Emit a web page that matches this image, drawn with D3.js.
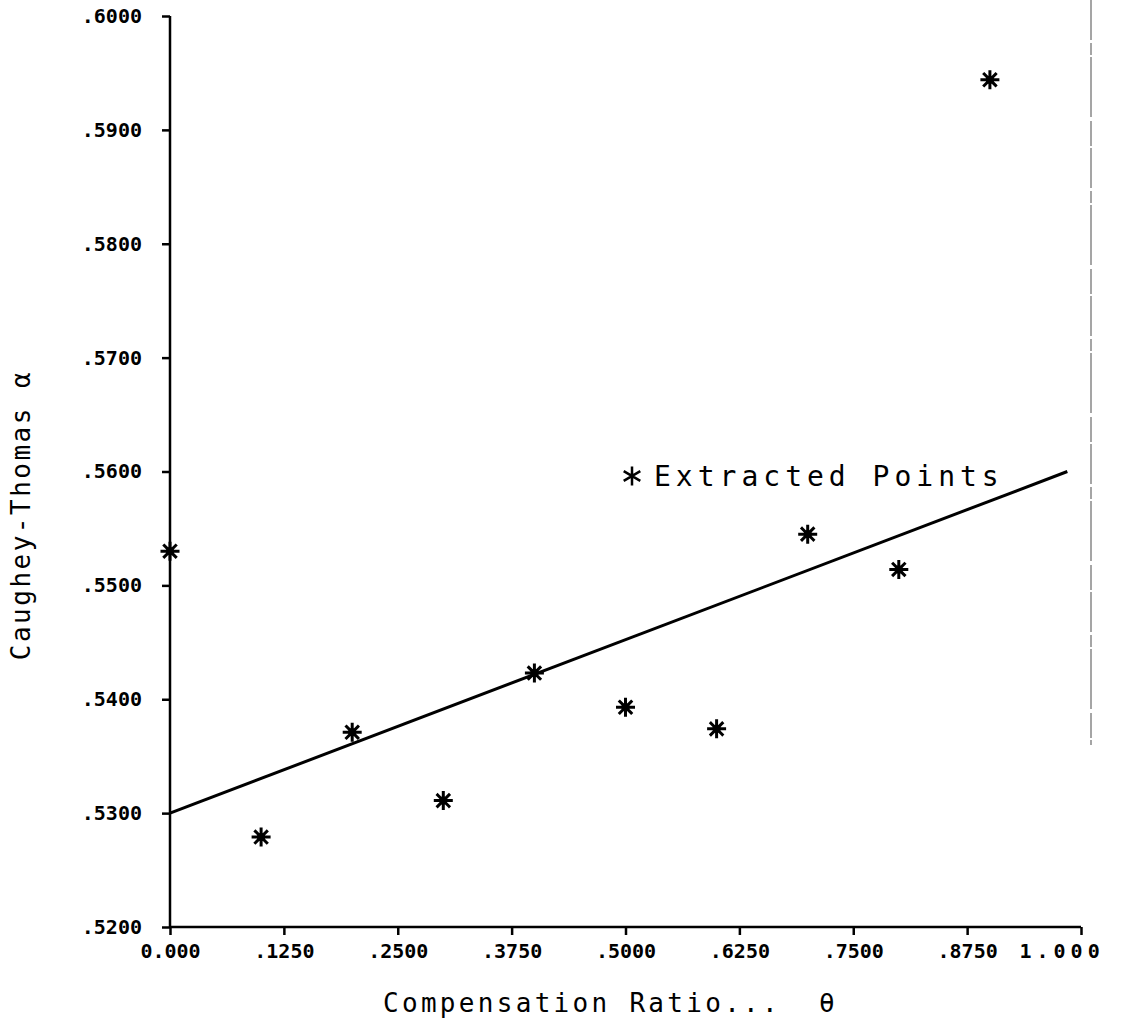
<!DOCTYPE html>
<html>
<head>
<meta charset="utf-8">
<script src="https://cdn.jsdelivr.net/npm/d3@7"></script>
<style>
  body { margin: 0; background: #fff; }
  svg { display: block; }
  text { font-family: "DejaVu Sans Mono", "Liberation Mono", monospace; fill: #000; }
  .tick line { stroke: #000; stroke-width: 2.5; }
  .domain { display: none; }
</style>
</head>
<body>
<div id="chart"></div>
<script>
// compensation ratio theta for each extracted point
const thetaValues = [0.0, 0.1, 0.2, 0.3, 0.4, 0.5, 0.6, 0.7, 0.8, 0.9];
// Caughey-Thomas alpha
const alphaValues = [0.5530, 0.5279, 0.5371, 0.5311, 0.5423, 0.5393, 0.5374, 0.5545, 0.5514, 0.5944];
// fitted straight line, end points
const fitTheta = [0.0, 0.985];
const fitAlpha = [0.5300, 0.5600];

const xTicks = [0, 0.125, 0.25, 0.375, 0.5, 0.625, 0.75, 0.875, 1.0];
const xTickLabels = ["0.000", ".1250", ".2500", ".3750", ".5000", ".6250", ".7500", ".8750", "1.000"];
const yTicks = [0.52, 0.53, 0.54, 0.55, 0.56, 0.57, 0.58, 0.59, 0.60];
const yTickLabels = [".5200", ".5300", ".5400", ".5500", ".5600", ".5700", ".5800", ".5900", ".6000"];

const width = 1131, height = 1021;
const plotLeft = 170, plotRight = 1081, plotTop = 16, plotBottom = 927;

let svg = d3.select("#chart").append("svg")
    .attr("width", width)
    .attr("height", height);

let x = d3.scaleLinear().domain([0, 1]).range([plotLeft, plotRight]);
let y = d3.scaleLinear().domain([0.52, 0.60]).range([plotBottom, plotTop]);

// faint scanned page edge on the right
svg.append("line")
    .attr("x1", 1091).attr("x2", 1091)
    .attr("y1", 0).attr("y2", 745)
    .attr("stroke", "#888")
    .attr("stroke-width", 1.5)
    .attr("stroke-dasharray", "40 3 12 2 60 4 25 2");

// axes
let xAxis = svg.append("g")
    .attr("transform", `translate(0,${plotBottom})`)
    .call(d3.axisBottom(x).tickValues(xTicks).tickSize(8).tickPadding(9)
        .tickFormat((d, i) => xTickLabels[i]));
xAxis.selectAll("text")
    .style("font-size", "20px")
    .style("font-weight", "bold");
// the last label is spaced wider and runs off the page
xAxis.selectAll(".tick:last-of-type text")
    .attr("text-anchor", "start")
    .attr("dx", "-62")
    .style("letter-spacing", "5px");

let yAxis = svg.append("g")
    .attr("transform", `translate(${plotLeft},0)`)
    .call(d3.axisLeft(y).tickValues(yTicks).tickSize(8).tickPadding(20)
        .tickFormat((d, i) => yTickLabels[i]));
yAxis.selectAll("text")
    .style("font-size", "20px")
    .style("font-weight", "bold");

// axis lines
svg.append("line")
    .attr("x1", plotLeft).attr("x2", plotLeft)
    .attr("y1", plotTop).attr("y2", plotBottom)
    .attr("stroke", "#000").attr("stroke-width", 2.5);
svg.append("line")
    .attr("x1", plotLeft).attr("x2", plotRight)
    .attr("y1", plotBottom).attr("y2", plotBottom)
    .attr("stroke", "#000").attr("stroke-width", 2.5);

// fitted line
let fitData = fitTheta.map((t, i) => ({theta: t, alpha: fitAlpha[i]}));
let line = d3.line().x(d => x(d.theta)).y(d => y(d.alpha));
svg.append("path")
    .datum(fitData)
    .attr("d", line)
    .attr("fill", "none")
    .attr("stroke", "#000")
    .attr("stroke-width", 3);

// star markers (8 arms)
let pts = thetaValues.map((t, i) => ({theta: t, alpha: alphaValues[i]}));
let star = function (r) {
    let p = d3.path();
    for (let k = 0; k < 4; k++) {
        let a = k * Math.PI / 4;
        p.moveTo(-r * Math.cos(a), -r * Math.sin(a));
        p.lineTo(r * Math.cos(a), r * Math.sin(a));
    }
    return p.toString();
};
let marks = svg.selectAll("g.pt")
    .data(pts)
    .enter()
    .append("g")
    .attr("class", "pt")
    .attr("transform", d => `translate(${x(d.theta)},${y(d.alpha)})`);
marks.append("path")
    .attr("d", star(8))
    .attr("stroke", "#000")
    .attr("stroke-width", 3)
    .attr("stroke-linecap", "square");
marks.append("circle")
    .attr("r", 4)
    .attr("fill", "#000");

// legend
let legend = svg.append("g").attr("transform", "translate(632,476)");
legend.append("path")
    .attr("d", d3.symbol(d3.symbolAsterisk, 260)())
    .attr("stroke", "#000")
    .attr("stroke-width", 2.5);
legend.append("text")
    .attr("x", 22)
    .attr("y", 10)
    .style("font-size", "28px")
    .style("letter-spacing", "5px")
    .text("Extracted Points");

// axis titles
svg.append("text")
    .attr("x", 383)
    .attr("y", 1012)
    .style("font-size", "26px")
    .style("letter-spacing", "3.3px")
    .style("white-space", "pre")
    .text("Compensation Ratio...  θ");

svg.append("text")
    .attr("transform", "translate(30,515) rotate(-90)")
    .attr("text-anchor", "middle")
    .style("font-size", "26px")
    .style("letter-spacing", "2.5px")
    .style("white-space", "pre")
    .text("Caughey-Thomas α");
</script>
</body>
</html>
